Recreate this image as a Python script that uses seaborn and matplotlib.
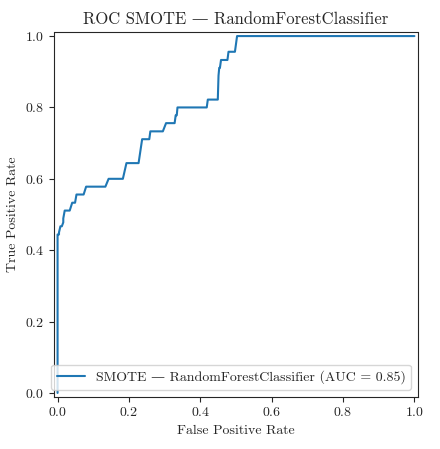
import matplotlib
matplotlib.use("Agg")
import matplotlib.pyplot as plt
import seaborn as sns
import pandas as pd

sns.set_style("ticks")
plt.rcParams['font.family'] = ['cmr10', 'DejaVu Serif']
plt.rcParams['axes.formatter.use_mathtext'] = True
plt.rcParams['mathtext.fontset'] = 'cm'

# ROC points
fpr = [0.0, 0.0, 0.004, 0.004, 0.008, 0.012, 0.016, 0.016, 0.02, 0.034, 0.041, 0.049, 0.053,
       0.073, 0.080, 0.134, 0.143, 0.183, 0.193, 0.227, 0.237, 0.257, 0.26, 0.295, 0.304,
       0.328, 0.331, 0.334, 0.336, 0.418, 0.421, 0.449, 0.451, 0.453, 0.455, 0.458, 0.476,
       0.479, 0.497, 0.5, 0.503, 1.0]
tpr = [0.0, 0.444, 0.444, 0.450, 0.467, 0.467, 0.478, 0.489, 0.511, 0.511, 0.533, 0.533, 0.556,
       0.556, 0.578, 0.578, 0.6, 0.6, 0.644, 0.644, 0.711, 0.711, 0.733, 0.733, 0.756,
       0.756, 0.778, 0.778, 0.8, 0.8, 0.822, 0.822, 0.889, 0.911, 0.911, 0.933, 0.933,
       0.956, 0.956, 0.978, 1.0, 1.0]
auc = 0.85
label = "SMOTE — RandomForestClassifier"

df = pd.DataFrame({"fpr": fpr, "tpr": tpr})
fig, ax = plt.subplots(figsize=(4.4, 4.49), dpi=100)
sns.lineplot(data=df, x="fpr", y="tpr", sort=False, estimator=None, ax=ax,
             color="#1f77b4", label=f"{label} (AUC = {auc:.2f})")
ax.set_xlim(-0.01, 1.01)
ax.set_ylim(-0.01, 1.01)
ax.set_aspect("equal")
ax.set_xlabel("False Positive Rate")
ax.set_ylabel("True Positive Rate")
ax.set_title(f"ROC {label}")
ax.legend(loc="lower right")
fig.subplots_adjust(left=54/440, right=418/440, bottom=51/449, top=418/449)
fig.savefig("out.png", dpi=100)
